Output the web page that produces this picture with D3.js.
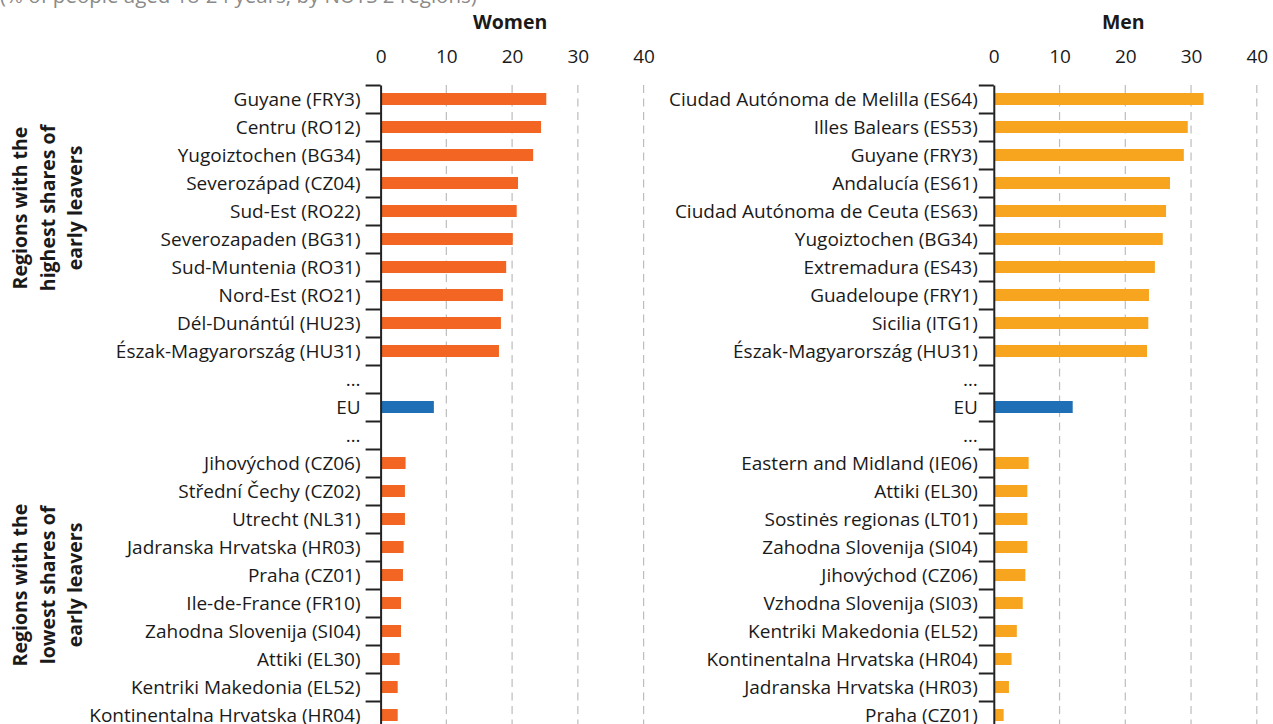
<!DOCTYPE html>
<html>
<head>
<meta charset="utf-8">
<script src="https://cdn.jsdelivr.net/npm/d3@7"></script>
<style>
  html, body { margin: 0; padding: 0; background: #fff; overflow: hidden; }
  svg { display: block; }
  text { font-family: "Open Sans", "Noto Sans", sans-serif; }
</style>
</head>
<body>
<svg id="chart" width="1273" height="724"></svg>
<script>
// Early leavers from education and training, top and bottom NUTS 2 regions
const subtitle = "(% of people aged 18-24 years, by NUTS 2 regions)";

const womenTopRegions = [
  "Guyane (FRY3)", "Centru (RO12)", "Yugoiztochen (BG34)", "Severozápad (CZ04)",
  "Sud-Est (RO22)", "Severozapaden (BG31)", "Sud-Muntenia (RO31)", "Nord-Est (RO21)",
  "Dél-Dunántúl (HU23)", "Észak-Magyarország (HU31)"
];
const womenTopValues = [25.2, 24.4, 23.2, 20.9, 20.7, 20.1, 19.1, 18.6, 18.3, 18.0];

const womenBottomRegions = [
  "Jihovýchod (CZ06)", "Střední Čechy (CZ02)", "Utrecht (NL31)", "Jadranska Hrvatska (HR03)",
  "Praha (CZ01)", "Ile-de-France (FR10)", "Zahodna Slovenija (SI04)", "Attiki (EL30)",
  "Kentriki Makedonia (EL52)", "Kontinentalna Hrvatska (HR04)"
];
const womenBottomValues = [3.8, 3.7, 3.7, 3.5, 3.4, 3.1, 3.1, 2.9, 2.6, 2.6];

const menTopRegions = [
  "Ciudad Autónoma de Melilla (ES64)", "Illes Balears (ES53)", "Guyane (FRY3)", "Andalucía (ES61)",
  "Ciudad Autónoma de Ceuta (ES63)", "Yugoiztochen (BG34)", "Extremadura (ES43)", "Guadeloupe (FRY1)",
  "Sicilia (ITG1)", "Észak-Magyarország (HU31)"
];
const menTopValues = [31.9, 29.5, 28.9, 26.8, 26.2, 25.7, 24.5, 23.6, 23.5, 23.3];

const menBottomRegions = [
  "Eastern and Midland (IE06)", "Attiki (EL30)", "Sostinės regionas (LT01)", "Zahodna Slovenija (SI04)",
  "Jihovýchod (CZ06)", "Vzhodna Slovenija (SI03)", "Kentriki Makedonia (EL52)", "Kontinentalna Hrvatska (HR04)",
  "Jadranska Hrvatska (HR03)", "Praha (CZ01)"
];
const menBottomValues = [5.3, 5.1, 5.1, 5.1, 4.8, 4.4, 3.5, 2.7, 2.3, 1.5];

const euLabel = "EU";
const euWomen = 8.1;
const euMen = 12.0;
const gapLabel = "…";

const xTicks = [0, 10, 20, 30, 40];
const groupLabels = [
  ["Regions with the", "highest shares of", "early leavers"],
  ["Regions with the", "lowest shares of", "early leavers"]
];

const colors = { women: "#f26522", men: "#f7a51e", eu: "#1f6fb6" };

// Build the row list for one panel: top 10, gap, EU, gap, bottom 10
function buildRows(topR, topV, botR, botV, euV, color) {
  const rows = [];
  topR.forEach((r, i) => rows.push({ label: r, value: topV[i], color }));
  rows.push({ label: gapLabel, value: null });
  rows.push({ label: euLabel, value: euV, color: colors.eu });
  rows.push({ label: gapLabel, value: null });
  botR.forEach((r, i) => rows.push({ label: r, value: botV[i], color }));
  return rows;
}

const svg = d3.select("#chart");

const rowTop = 85, rowStep = 28, nRows = 23;
const y = d3.scaleLinear().domain([0, nRows]).range([rowTop, rowTop + rowStep * nRows]);
const barH = 12;

// Subtitle (runs off the top edge)
svg.append("text")
  .attr("x", 0).attr("y", 3)
  .attr("font-size", 20.5).attr("fill", "#8a8a8a")
  .text(subtitle);

// Group labels on the far left
const groupCenters = [208, 585];
groupLabels.forEach((lines, g) => {
  lines.forEach((line, j) => {
    svg.append("text")
      .attr("transform", `translate(${27 + j * 27.5},${groupCenters[g]}) rotate(-90)`)
      .attr("text-anchor", "middle")
      .attr("font-size", 19.5).attr("font-weight", 700).attr("fill", "#1a1a1a")
      .text(line);
  });
});

function drawPanel(title, x0, rows, labelGap) {
  const x = d3.scaleLinear().domain([0, 40]).range([x0, x0 + 263]);
  const g = svg.append("g");

  // panel title
  g.append("text")
    .attr("x", x(20) - 2).attr("y", 29)
    .attr("text-anchor", "middle")
    .attr("font-size", 19.5).attr("font-weight", 700).attr("fill", "#1a1a1a")
    .text(title);

  // value axis along the top
  const topAxis = g.append("g")
    .attr("transform", "translate(0,63)")
    .call(d3.axisTop(x).tickValues(xTicks).tickSize(0).tickPadding(0));
  topAxis.select(".domain").remove();
  topAxis.selectAll("text")
    .attr("font-size", 19).attr("fill", "#1a1a1a")
    .attr("font-family", "'Open Sans', sans-serif")
    .attr("dy", 0);

  // dashed gridlines
  g.append("g").selectAll("line")
    .data(xTicks.filter(t => t > 0))
    .join("line")
    .attr("x1", d => x(d)).attr("x2", d => x(d))
    .attr("y1", y(0)).attr("y2", y(nRows))
    .attr("stroke", "#bdbdbd").attr("stroke-width", 1.2)
    .attr("stroke-dasharray", "8,5.5");

  // bars
  g.append("g").selectAll("rect")
    .data(rows.map((r, i) => ({ ...r, i })).filter(r => r.value != null))
    .join("rect")
    .attr("x", x(0) + 1)
    .attr("y", d => y(d.i + 0.5) - barH / 2)
    .attr("width", d => x(d.value) - x(0) - 1)
    .attr("height", barH)
    .attr("fill", d => d.color);

  // category axis with ticks at row boundaries
  const catAxis = g.append("g")
    .attr("transform", `translate(${x(0)},0)`)
    .call(d3.axisLeft(y).tickValues(d3.range(nRows + 1)).tickSize(15).tickSizeOuter(0).tickFormat(""));
  catAxis.select(".domain").attr("stroke", "#222").attr("stroke-width", 2);
  catAxis.selectAll(".tick line").attr("stroke", "#222").attr("stroke-width", 2);

  // row labels
  g.append("g").selectAll("text")
    .data(rows)
    .join("text")
    .attr("x", x(0) - labelGap)
    .attr("y", (d, i) => y(i + 0.5))
    .attr("dy", "0.35em")
    .attr("text-anchor", "end")
    .attr("font-size", 19).attr("fill", "#1a1a1a")
    .text(d => d.label);
}

drawPanel("Women", 380.6,
  buildRows(womenTopRegions, womenTopValues, womenBottomRegions, womenBottomValues, euWomen, colors.women), 20);
drawPanel("Men", 993.8,
  buildRows(menTopRegions, menTopValues, menBottomRegions, menBottomValues, euMen, colors.men), 16);
</script>
</body>
</html>
